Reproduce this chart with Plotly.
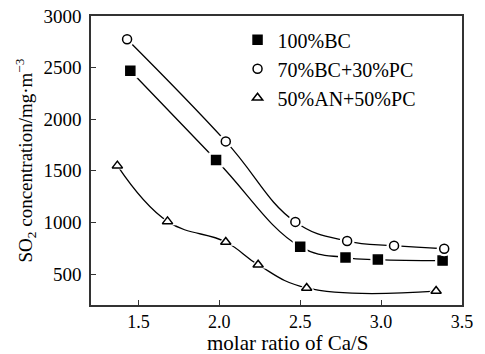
import plotly.graph_objects as go

bc_x = [1.45, 1.98, 2.50, 2.78, 2.98, 3.38]
bc_y = [2470, 1605, 765, 660, 640, 630]
pc_x = [1.43, 2.04, 2.47, 2.79, 3.08, 3.39]
pc_y = [2775, 1785, 1005, 820, 775, 745]
an_x = [1.37, 1.68, 2.04, 2.24, 2.54, 3.34]
an_y = [1550, 1010, 810, 590, 365, 335]

series = [
    ("100%BC", bc_x, bc_y, "square", "black"),
    ("70%BC+30%PC", pc_x, pc_y, "circle", "white"),
    ("50%AN+50%PC", an_x, an_y, "triangle-up", "white"),
]

font = "Liberation Serif, Times New Roman, serif"
fig = go.Figure()
for name, xs, ys, sym, fill in series:
    fig.add_trace(go.Scatter(x=xs, y=ys, mode="lines", line=dict(color="black", width=1.3, shape="spline", smoothing=1.2),
                             showlegend=False, hoverinfo="skip"))
    fig.add_trace(go.Scatter(x=xs, y=ys, mode="markers", marker=dict(symbol=sym, size=15, color="white"),
                             showlegend=False, hoverinfo="skip"))
    fig.add_trace(go.Scatter(x=xs, y=ys, mode="markers", name=name,
                             marker=dict(symbol=sym, size=9, color=fill, line=dict(color="black", width=1.5))))

axis_common = dict(showline=True, linecolor="#333", linewidth=1.5, mirror=True, ticks="inside", ticklen=5,
                   tickcolor="#333", showgrid=False, zeroline=False, automargin=False)
fig.update_xaxes(range=[1.207, 3.5], dtick=0.5, tick0=1.5, tickformat=".1f", ticklabelstandoff=0,
                 tickfont=dict(family=font, size=18, color="black"), **axis_common)
fig.update_yaxes(range=[200, 3000], dtick=500, tick0=500, ticklabelstandoff=4,
                 tickfont=dict(family=font, size=19, color="black"),
                 title=dict(text="SO<sub>2</sub> concentration/mg·m<sup>−3</sup>", font=dict(family=font, size=19, color="black"), standoff=6),
                 **axis_common)
fig.add_annotation(text="molar ratio of Ca/S", xref="paper", yref="paper", x=0.531, y=-0.133,
                   xanchor="center", yanchor="middle", showarrow=False,
                   font=dict(family=font, size=21, color="black"))
fig.update_layout(width=485, height=354, margin=dict(l=91, r=23, t=16, b=49),
                  plot_bgcolor="white", paper_bgcolor="white",
                  legend=dict(x=0.395, y=0.985, xanchor="left", yanchor="top", bgcolor="rgba(0,0,0,0)",
                              font=dict(family=font, size=20, color="black"), itemwidth=30, tracegroupgap=0))
fig.write_html("out.html")
